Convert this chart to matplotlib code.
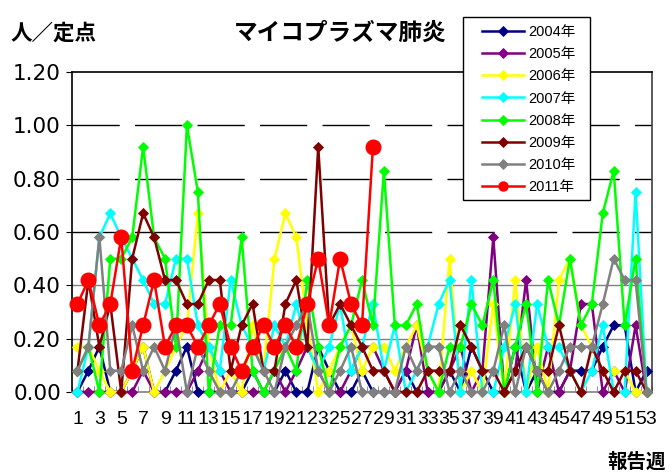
import numpy as np
import matplotlib
matplotlib.use("Agg")
import matplotlib.pyplot as plt
from matplotlib.patches import Rectangle

plt.rcParams['font.family'] = ['Liberation Sans', 'Noto Sans CJK JP', 'DejaVu Sans']

# DATA (per sentinel, weeks 1-53)
weeks = list(range(1, 54))
week_labels = [str(w) if w % 2 == 1 else "" for w in weeks]

y2004 = [0, 0.08, 0.17, 0, 0, 0.08, 0.17, 0, 0, 0.08, 0.17, 0, 0, 0, 0, 0, 0.08, 0, 0, 0.08,
         0, 0, 0.17, 0.08, 0, 0, 0.08, 0, 0, 0, 0.08, 0, 0, 0, 0.08, 0, 0.17, 0.08, 0, 0,
         0.17, 0, 0.08, 0, 0, 0.08, 0.08, 0.08, 0.17, 0.25, 0.25, 0, 0.08]
y2005 = [0, 0, 0, 0, 0, 0, 0.08, 0, 0, 0, 0, 0.08, 0.17, 0.08, 0, 0, 0, 0, 0.08, 0,
         0.08, 0.17, 0.08, 0, 0, 0.08, 0.17, 0.17, 0.08, 0, 0.08, 0.25, 0, 0, 0.08, 0.17, 0, 0.08, 0.58, 0,
         0.08, 0.42, 0, 0.17, 0, 0.08, 0.33, 0.33, 0, 0.08, 0, 0.25, 0]
y2006 = [0.17, 0.17, 0.08, 0, 0, 0.08, 0.17, 0, 0.08, 0.17, 0.25, 0.67, 0.17, 0, 0.08, 0, 0.25, 0.08, 0.5, 0.67,
         0.58, 0.25, 0, 0.08, 0.17, 0.25, 0.08, 0.17, 0.17, 0.08, 0.17, 0.25, 0.08, 0, 0.5, 0, 0.08, 0, 0.33, 0,
         0.42, 0, 0.17, 0, 0.42, 0.5, 0.25, 0.17, 0.08, 0.08, 0.08, 0, 0]
y2007 = [0, 0.17, 0.58, 0.67, 0.58, 0.5, 0.42, 0.33, 0.33, 0.5, 0.5, 0.25, 0.17, 0.08, 0.42, 0.25, 0.17, 0.08, 0.25, 0.17,
         0.33, 0.17, 0.08, 0.17, 0.33, 0.08, 0.17, 0.33, 0.08, 0.25, 0, 0.08, 0.17, 0.33, 0.42, 0, 0.42, 0, 0, 0.17,
         0.33, 0, 0.33, 0.17, 0.17, 0.08, 0, 0.08, 0.25, 0, 0, 0.75, 0]
y2008 = [0.08, 0.17, 0, 0.5, 0.5, 0.58, 0.92, 0.58, 0.5, 0.17, 1.0, 0.75, 0, 0.25, 0.25, 0.58, 0.08, 0, 0.08, 0.17,
         0.08, 0.42, 0.17, 0, 0.17, 0.25, 0.42, 0.25, 0.83, 0.25, 0.25, 0.33, 0.08, 0, 0.17, 0.17, 0.33, 0.25, 0.42, 0,
         0.17, 0.33, 0, 0.42, 0.25, 0.5, 0.25, 0.33, 0.67, 0.83, 0.25, 0.5, 0]
y2009 = [0.08, 0.42, 0.17, 0.33, 0, 0.5, 0.67, 0.58, 0.42, 0.42, 0.33, 0.33, 0.42, 0.42, 0.08, 0.25, 0.33, 0.08, 0.08, 0.33,
         0.42, 0.17, 0.92, 0.25, 0.33, 0.25, 0.17, 0.08, 0.08, 0, 0, 0, 0.08, 0.08, 0.08, 0.25, 0.17, 0.08, 0.08, 0,
         0.08, 0.17, 0.08, 0.08, 0.25, 0.08, 0, 0.17, 0.08, 0, 0.08, 0.08, 0]
y2010 = [0.08, 0.17, 0.58, 0.08, 0.08, 0.25, 0.08, 0.17, 0.08, 0.25, 0, 0.17, 0.08, 0, 0, 0.08, 0.17, 0.08, 0, 0.17,
         0.25, 0.33, 0.08, 0, 0.08, 0.17, 0, 0, 0, 0, 0.17, 0.08, 0.17, 0.17, 0, 0.08, 0, 0, 0.08, 0.25,
         0, 0.17, 0.08, 0, 0.08, 0.17, 0.17, 0.17, 0.33, 0.5, 0.42, 0.42, 0]
y2011 = [0.33, 0.42, 0.25, 0.33, 0.58, 0.08, 0.25, 0.42, 0.17, 0.25, 0.25, 0.17, 0.25, 0.33, 0.17, 0.08, 0.17, 0.25, 0.17, 0.25,
         0.17, 0.33, 0.5, 0.25, 0.5, 0.33, 0.25, 0.92]

series = [
    ("2004年", y2004, "#000080"),
    ("2005年", y2005, "#800080"),
    ("2006年", y2006, "#FFFF00"),
    ("2007年", y2007, "#00FFFF"),
    ("2008年", y2008, "#00FF00"),
    ("2009年", y2009, "#800000"),
    ("2010年", y2010, "#808080"),
]

fig = plt.figure(figsize=(6.72, 4.75), dpi=100)
ax = fig.add_axes([72 / 672, 83 / 475, 580 / 672, 320 / 475])

# grid: lower lines grey solid, upper ones black dashed
for v in [0.2, 0.4]:
    ax.axhline(v, color="#808080", lw=1, zorder=0.5)
for v in [0.6, 0.8, 1.0]:
    ax.axhline(v, color="black", lw=1, ls=(0, (34, 11)), zorder=0.5)

for name, vals, col in series:
    ax.plot(weeks[:len(vals)], vals, color=col, lw=1.8, marker="D", markersize=4.6,
            markeredgewidth=0.6, label=name, clip_on=False, zorder=3)
ax.plot(weeks[:len(y2011)], y2011, color="#FF0000", lw=1.8, marker="o", markersize=10.5,
        label="2011年", clip_on=False, zorder=4)

ax.set_xlim(0.5, 53.5)
ax.set_ylim(0, 1.2)
ax.set_yticks(np.arange(0, 1.21, 0.2))
ax.set_yticklabels([f"{v:.2f}" for v in np.arange(0, 1.21, 0.2)], fontsize=15.5,
                   family=["DejaVu Sans"])
ax.set_xticks(weeks)
ax.set_xticklabels(week_labels, fontsize=14)
ax.set_xticks(np.arange(0.5, 54, 1), minor=True)
ax.tick_params(axis="x", which="major", length=0, pad=14)
ax.tick_params(axis="x", which="minor", direction="in", length=4, color="#808080")
ax.tick_params(axis="y", length=4, pad=4)

ax.spines["left"].set_color("black")
ax.spines["top"].set_color("black")
ax.spines["right"].set_color("#404040")
ax.spines["bottom"].set_color("#808080")
for s in ax.spines.values():
    s.set_linewidth(1.2)

fig.text(340 / 672, 1 - 33 / 475, "マイコプラズマ肺炎", ha="center", va="center",
         fontsize=17, fontweight="bold", family=["Noto Sans CJK JP"])
fig.text(10 / 672, 1 - 33 / 475, "人／定点", ha="left", va="center",
         fontsize=15.5, fontweight="bold", family=["Noto Sans CJK JP"])
fig.text(666 / 672, 1 - 462 / 475, "報告週", ha="right", va="center",
         fontsize=14, fontweight="bold", family=["Noto Sans CJK JP"])

# legend box drawn separately so the padding can match the original
box = Rectangle((463 / 672, 1 - 200 / 475), 127 / 672, 183 / 475,
                transform=fig.transFigure, facecolor="white", edgecolor="black",
                lw=1.0, zorder=4)
fig.add_artist(box)
leg = fig.legend(loc="upper left", bbox_to_anchor=(482 / 672, 1 - 25 / 475),
                 fontsize=10.5, frameon=False, borderpad=0, labelspacing=0.56,
                 handlelength=2.9, handletextpad=0.3, borderaxespad=0)
leg.set_zorder(5)
leg.legend_handles[7].set_markersize(6.5)

fig.savefig("out.png", dpi=100)
